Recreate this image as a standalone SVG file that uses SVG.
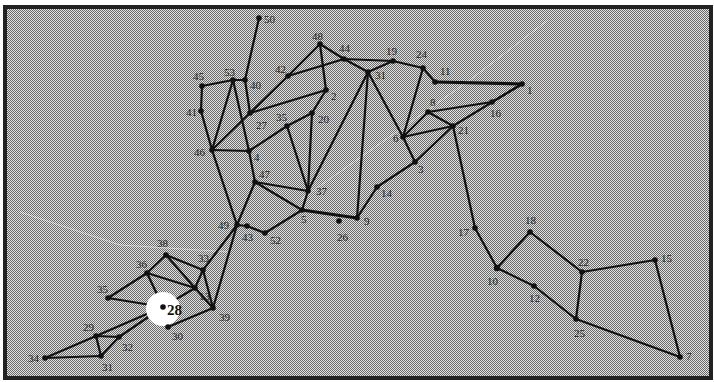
<svg xmlns="http://www.w3.org/2000/svg" width="714" height="382" viewBox="0 0 714 382">
<defs>
<pattern id="dither" width="2" height="2" patternUnits="userSpaceOnUse">
<rect width="2" height="2" fill="#e2e2e2"/>
<rect x="0" y="0" width="1" height="1" fill="#6a6a6a"/>
<rect x="1" y="1" width="1" height="1" fill="#6a6a6a"/>
</pattern>
<style>
.e{stroke:#111;stroke-width:2.2;fill:none;stroke-linecap:round}
.t{stroke:#111;stroke-width:3.2;fill:none}
.f{stroke:#fff;stroke-opacity:0.45;stroke-width:1;fill:none}
.d{fill:#111}
.l{font-family:"Liberation Serif",serif;font-size:11px;fill:#222}
.b{font-family:"Liberation Serif",serif;font-size:15px;font-weight:bold;fill:#111}
</style>
</defs>
<rect width="714" height="382" fill="#fff"/>
<rect x="5" y="7" width="706" height="371" fill="url(#dither)" stroke="#222" stroke-width="4"/>
<g id="faint">
<path class="f" d="M548 20 L470 80 L300 200"/>
<path class="f" d="M20 212 L120 245 L230 252"/>
</g>
<g id="connectors">
<line class="e" x1="259" y1="18" x2="245" y2="80"/>
<line class="e" x1="202" y1="86" x2="233" y2="80"/>
<line class="e" x1="233" y1="80" x2="245" y2="80"/>
<line class="e" x1="202" y1="86" x2="201" y2="111"/>
<line class="e" x1="201" y1="111" x2="212" y2="150"/>
<line class="e" x1="233" y1="80" x2="212" y2="150"/>
<line class="e" x1="233" y1="80" x2="249" y2="151"/>
<line class="e" x1="245" y1="80" x2="250" y2="113"/>
<line class="e" x1="250" y1="113" x2="212" y2="150"/>
<line class="e" x1="250" y1="113" x2="288" y2="76"/>
<line class="e" x1="288" y1="76" x2="344" y2="59"/>
<line class="e" x1="288" y1="76" x2="320" y2="44"/>
<line class="e" x1="250" y1="113" x2="326" y2="90"/>
<line class="e" x1="320" y1="44" x2="326" y2="90"/>
<line class="e" x1="320" y1="44" x2="344" y2="59"/>
<line class="e" x1="344" y1="59" x2="393" y2="61"/>
<line class="e" x1="344" y1="59" x2="368" y2="72"/>
<line class="e" x1="393" y1="61" x2="368" y2="72"/>
<line class="e" x1="393" y1="61" x2="423" y2="68"/>
<line class="e" x1="423" y1="68" x2="435" y2="82"/>
<line class="t" x1="435" y1="82" x2="522" y2="84"/>
<line class="e" x1="423" y1="68" x2="403" y2="137"/>
<line class="e" x1="522" y1="84" x2="492" y2="102"/>
<line class="e" x1="492" y1="102" x2="428" y2="112"/>
<line class="e" x1="522" y1="84" x2="453" y2="126"/>
<line class="e" x1="428" y1="112" x2="453" y2="126"/>
<line class="e" x1="428" y1="112" x2="403" y2="137"/>
<line class="e" x1="403" y1="137" x2="453" y2="126"/>
<line class="e" x1="368" y1="72" x2="403" y2="137"/>
<line class="e" x1="368" y1="72" x2="308" y2="191"/>
<line class="e" x1="368" y1="72" x2="357" y2="218"/>
<line class="e" x1="403" y1="137" x2="415" y2="162"/>
<line class="e" x1="415" y1="162" x2="453" y2="126"/>
<line class="e" x1="415" y1="162" x2="377" y2="187"/>
<line class="e" x1="377" y1="187" x2="357" y2="218"/>
<line class="e" x1="453" y1="126" x2="475" y2="228"/>
<line class="e" x1="475" y1="228" x2="497" y2="268"/>
<line class="e" x1="497" y1="268" x2="530" y2="232"/>
<line class="e" x1="530" y1="232" x2="582" y2="272"/>
<line class="e" x1="497" y1="268" x2="534" y2="286"/>
<line class="e" x1="534" y1="286" x2="576" y2="319"/>
<line class="e" x1="582" y1="272" x2="576" y2="319"/>
<line class="e" x1="582" y1="272" x2="655" y2="260"/>
<line class="e" x1="655" y1="260" x2="680" y2="357"/>
<line class="e" x1="576" y1="319" x2="680" y2="357"/>
<line class="e" x1="326" y1="90" x2="312" y2="113"/>
<line class="e" x1="212" y1="150" x2="249" y2="151"/>
<line class="e" x1="249" y1="151" x2="287" y2="126"/>
<line class="e" x1="287" y1="126" x2="312" y2="113"/>
<line class="e" x1="287" y1="126" x2="308" y2="191"/>
<line class="e" x1="312" y1="113" x2="308" y2="191"/>
<line class="e" x1="249" y1="151" x2="255" y2="182"/>
<line class="e" x1="212" y1="150" x2="237" y2="225"/>
<line class="e" x1="255" y1="182" x2="237" y2="225"/>
<line class="e" x1="255" y1="182" x2="308" y2="191"/>
<line class="e" x1="255" y1="182" x2="302" y2="210"/>
<line class="e" x1="308" y1="191" x2="302" y2="210"/>
<line class="t" x1="302" y1="210" x2="357" y2="218"/>
<line class="e" x1="302" y1="210" x2="265" y2="233"/>
<line class="e" x1="237" y1="225" x2="247" y2="226"/>
<line class="e" x1="247" y1="226" x2="265" y2="233"/>
<line class="e" x1="237" y1="225" x2="203" y2="270"/>
<line class="e" x1="237" y1="225" x2="213" y2="308"/>
<line class="e" x1="166" y1="255" x2="147" y2="273"/>
<line class="e" x1="166" y1="255" x2="203" y2="270"/>
<line class="e" x1="166" y1="255" x2="195" y2="288"/>
<line class="e" x1="147" y1="273" x2="108" y2="298"/>
<line class="e" x1="147" y1="273" x2="163" y2="307"/>
<line class="e" x1="147" y1="273" x2="195" y2="288"/>
<line class="e" x1="108" y1="298" x2="163" y2="307"/>
<line class="e" x1="163" y1="307" x2="195" y2="288"/>
<line class="e" x1="195" y1="288" x2="203" y2="270"/>
<line class="e" x1="195" y1="288" x2="213" y2="308"/>
<line class="e" x1="203" y1="270" x2="213" y2="308"/>
<line class="e" x1="163" y1="307" x2="168" y2="327"/>
<line class="e" x1="168" y1="327" x2="213" y2="308"/>
<line class="e" x1="45" y1="358" x2="96" y2="336"/>
<line class="e" x1="96" y1="336" x2="163" y2="307"/>
<line class="e" x1="96" y1="336" x2="119" y2="337"/>
<line class="e" x1="119" y1="337" x2="163" y2="307"/>
<line class="e" x1="96" y1="336" x2="101" y2="356"/>
<line class="e" x1="101" y1="356" x2="119" y2="337"/>
<line class="e" x1="45" y1="358" x2="101" y2="356"/>
</g>
<circle cx="163" cy="309" r="17" fill="#fff"/>
<g id="nodes">
<g id="n1"><circle class="d" cx="522" cy="84" r="2.8"/><text class="l" x="527" y="94">1</text></g>
<g id="n2"><circle class="d" cx="326" cy="90" r="2.8"/><text class="l" x="331" y="100">2</text></g>
<g id="n3"><circle class="d" cx="415" cy="162" r="2.8"/><text class="l" x="418" y="173">3</text></g>
<g id="n4"><circle class="d" cx="249" cy="151" r="2.8"/><text class="l" x="254" y="161">4</text></g>
<g id="n5"><circle class="d" cx="302" cy="210" r="2.8"/><text class="l" x="301" y="223">5</text></g>
<g id="n6"><circle class="d" cx="403" cy="137" r="2.8"/><text class="l" x="393" y="142">6</text></g>
<g id="n7"><circle class="d" cx="680" cy="357" r="2.8"/><text class="l" x="686" y="360">7</text></g>
<g id="n8"><circle class="d" cx="428" cy="112" r="2.8"/><text class="l" x="430" y="106">8</text></g>
<g id="n9"><circle class="d" cx="357" cy="218" r="2.8"/><text class="l" x="364" y="225">9</text></g>
<g id="n10"><circle class="d" cx="497" cy="268" r="3.2"/><text class="l" x="487" y="285">10</text></g>
<g id="n11"><circle class="d" cx="435" cy="82" r="2.8"/><text class="l" x="440" y="75">11</text></g>
<g id="n12"><circle class="d" cx="534" cy="286" r="2.8"/><text class="l" x="529" y="302">12</text></g>
<g id="n13"><circle class="d" cx="195" cy="288" r="2.8"/><text class="l" x="199" y="300">13</text></g>
<g id="n14"><circle class="d" cx="377" cy="187" r="2.8"/><text class="l" x="381" y="197">14</text></g>
<g id="n15"><circle class="d" cx="655" cy="260" r="2.8"/><text class="l" x="661" y="262">15</text></g>
<g id="n16"><circle class="d" cx="492" cy="102" r="2.8"/><text class="l" x="490" y="117">16</text></g>
<g id="n17"><circle class="d" cx="475" cy="228" r="2.8"/><text class="l" x="458" y="236">17</text></g>
<g id="n18"><circle class="d" cx="530" cy="232" r="2.8"/><text class="l" x="525" y="224">18</text></g>
<g id="n19"><circle class="d" cx="393" cy="61" r="2.8"/><text class="l" x="386" y="55">19</text></g>
<g id="n20"><circle class="d" cx="312" cy="113" r="2.8"/><text class="l" x="318" y="123">20</text></g>
<g id="n21"><circle class="d" cx="453" cy="126" r="2.8"/><text class="l" x="458" y="134">21</text></g>
<g id="n22"><circle class="d" cx="582" cy="272" r="2.8"/><text class="l" x="578" y="266">22</text></g>
<g id="n24"><circle class="d" cx="423" cy="68" r="2.8"/><text class="l" x="416" y="58">24</text></g>
<g id="n25"><circle class="d" cx="576" cy="319" r="2.8"/><text class="l" x="574" y="337">25</text></g>
<g id="n26"><circle class="d" cx="339" cy="221" r="2.8"/><text class="l" x="337" y="241">26</text></g>
<g id="n27"><circle class="d" cx="250" cy="113" r="2.8"/><text class="l" x="256" y="129">27</text></g>
<g id="n28"><circle class="d" cx="163" cy="307" r="2.8"/><text class="b" x="167" y="315">28</text></g>
<g id="n29"><circle class="d" cx="96" cy="336" r="2.8"/><text class="l" x="83" y="331">29</text></g>
<g id="n30"><circle class="d" cx="168" cy="327" r="2.8"/><text class="l" x="172" y="340">30</text></g>
<g id="n31"><circle class="d" cx="368" cy="72" r="2.8"/><text class="l" x="375" y="79">31</text></g>
<g id="n31b"><circle class="d" cx="101" cy="356" r="2.8"/><text class="l" x="102" y="371">31</text></g>
<g id="n32"><circle class="d" cx="119" cy="337" r="2.8"/><text class="l" x="122" y="351">32</text></g>
<g id="n33"><circle class="d" cx="203" cy="270" r="2.8"/><text class="l" x="198" y="262">33</text></g>
<g id="n34"><circle class="d" cx="45" cy="358" r="2.8"/><text class="l" x="28" y="362">34</text></g>
<g id="n35"><circle class="d" cx="287" cy="126" r="2.8"/><text class="l" x="276" y="121">35</text></g>
<g id="n35b"><circle class="d" cx="108" cy="298" r="2.8"/><text class="l" x="97" y="293">35</text></g>
<g id="n36"><circle class="d" cx="147" cy="273" r="2.8"/><text class="l" x="136" y="268">36</text></g>
<g id="n37"><circle class="d" cx="308" cy="191" r="2.8"/><text class="l" x="316" y="195">37</text></g>
<g id="n38"><circle class="d" cx="166" cy="255" r="2.8"/><text class="l" x="157" y="247">38</text></g>
<g id="n39"><circle class="d" cx="213" cy="308" r="2.8"/><text class="l" x="219" y="321">39</text></g>
<g id="n40"><circle class="d" cx="245" cy="80" r="2.8"/><text class="l" x="250" y="89">40</text></g>
<g id="n41"><circle class="d" cx="201" cy="111" r="2.8"/><text class="l" x="186" y="116">41</text></g>
<g id="n42"><circle class="d" cx="288" cy="76" r="2.8"/><text class="l" x="275" y="73">42</text></g>
<g id="n43"><circle class="d" cx="247" cy="226" r="2.8"/><text class="l" x="242" y="241">43</text></g>
<g id="n44"><circle class="d" cx="344" cy="59" r="2.8"/><text class="l" x="339" y="52">44</text></g>
<g id="n45"><circle class="d" cx="202" cy="86" r="2.8"/><text class="l" x="193" y="80">45</text></g>
<g id="n46"><circle class="d" cx="212" cy="150" r="2.8"/><text class="l" x="194" y="156">46</text></g>
<g id="n47"><circle class="d" cx="255" cy="182" r="2.8"/><text class="l" x="259" y="178">47</text></g>
<g id="n48"><circle class="d" cx="320" cy="44" r="2.8"/><text class="l" x="312" y="40">48</text></g>
<g id="n49"><circle class="d" cx="237" cy="225" r="2.8"/><text class="l" x="218" y="229">49</text></g>
<g id="n50"><circle class="d" cx="259" cy="18" r="2.8"/><text class="l" x="264" y="23">50</text></g>
<g id="n52"><circle class="d" cx="265" cy="233" r="2.8"/><text class="l" x="270" y="244">52</text></g>
<g id="n53"><circle class="d" cx="233" cy="80" r="2.8"/><text class="l" x="224" y="76">53</text></g>
</g>
</svg>
